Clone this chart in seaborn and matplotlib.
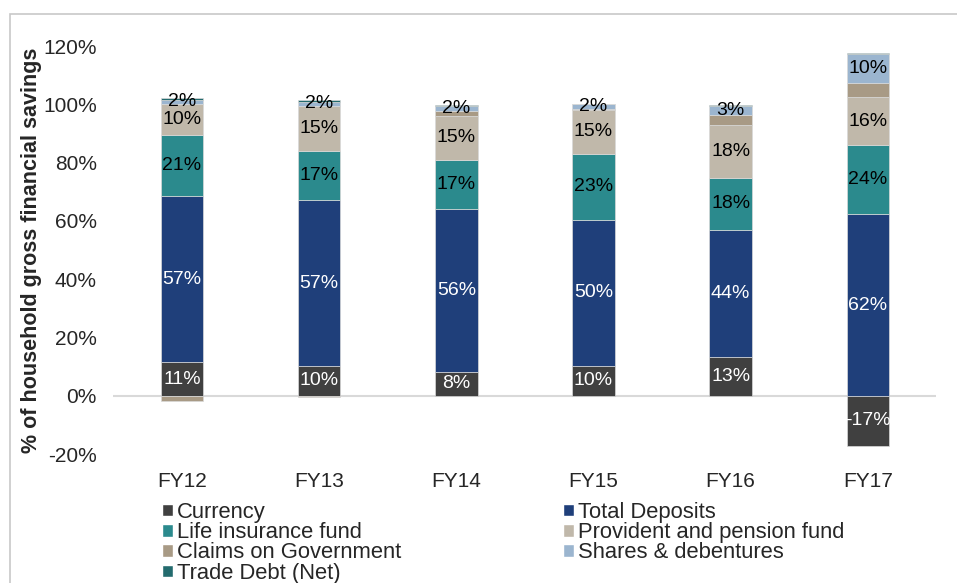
import numpy as np
import pandas as pd
import seaborn as sns
import matplotlib.pyplot as plt
from matplotlib.patches import Patch, Rectangle

years = ['FY12', 'FY13', 'FY14', 'FY15', 'FY16', 'FY17']
currency = [11.4, 10.2, 8.3, 10.2, 13.3, -17.3]
deposits = [57.2, 56.8, 55.6, 50.1, 43.6, 62.2]
life_ins = [21.0, 17.1, 17.0, 22.8, 17.8, 23.8]
provident = [10.4, 15.3, 15.2, 15.0, 18.3, 16.4]
claims_gov = [-1.8, -0.6, 1.6, 0.4, 3.4, 4.8]
shares = [1.6, 1.5, 1.6, 1.5, 3.0, 10.0]
trade_debt = [0.6, 0.4, 0.5, 0.2, 0.4, 0.3]

series = [
    ('Currency', currency, '#404040', 'white', True),
    ('Total Deposits', deposits, '#1f3f7a', 'white', True),
    ('Life insurance fund', life_ins, '#2b8a8d', 'black', True),
    ('Provident and pension fund', provident, '#c0b8aa', 'black', True),
    ('Claims on Government', claims_gov, '#a89a85', 'black', False),
    ('Shares & debentures', shares, '#9bb5cf', 'black', True),
    ('Trade Debt (Net)', trade_debt, '#236b6e', 'black', False),
]

sns.set_style('white')
plt.rcParams['font.family'] = ['Liberation Sans', 'DejaVu Sans']

fig = plt.figure(figsize=(9.57, 5.83), dpi=100)
ax = fig.add_axes([113.4 / 957, 129 / 583, 823 / 957, 408 / 583])

pos_base = np.zeros(len(years))
neg_base = np.zeros(len(years))
for name, vals, col, tcol, show in series:
    vals = np.array(vals)
    bottom = np.where(vals >= 0, pos_base, neg_base)
    df = pd.DataFrame({'year': years, 'value': vals})
    sns.barplot(data=df, x='year', y='value', order=years, bottom=bottom,
                color=col, width=0.31, edgecolor='#d9d9d9', linewidth=0.5,
                saturation=1, ax=ax)
    if show:
        for i, v in enumerate(vals):
            ax.text(i, bottom[i] + v / 2, f'{v:.0f}%', ha='center', va='center',
                    color=tcol, fontsize=14)
    pos_base = np.where(vals >= 0, pos_base + vals, pos_base)
    neg_base = np.where(vals < 0, neg_base + vals, neg_base)

ax.axhline(0, color='#d9d9d9', lw=1.5, zorder=0.5)
ax.set_ylim(-20, 120)
ax.set_xlim(-0.5, 5.5)
ax.set_yticks(range(-20, 121, 20))
ax.set_yticklabels([f'{t}%' for t in range(-20, 121, 20)])
ax.tick_params(axis='both', length=0, labelsize=15)
ax.tick_params(axis='y', pad=12)
ax.tick_params(axis='x', pad=13)
ax.set_xlabel('')
ax.set_ylabel('% of household gross financial savings', fontsize=15.5,
              fontweight='bold')
ax.yaxis.set_label_coords(-71 / 823, 0.5)
sns.despine(ax=ax, left=True, bottom=True)

# legend: matplotlib fills column-wise, reference reads row-wise
handles = {name: Patch(facecolor=col) for name, vals, col, tcol, show in series}
order = ['Currency', 'Life insurance fund', 'Claims on Government', 'Trade Debt (Net)',
         'Total Deposits', 'Provident and pension fund', 'Shares & debentures']
fig.legend([handles[n] for n in order], order, loc='upper left', ncol=2,
           bbox_to_anchor=(153 / 957, 1 - 493 / 583), frameon=False, fontsize=15.8,
           handlelength=0.5, handleheight=0.5, handletextpad=0.2,
           labelspacing=-0.03, columnspacing=7.37, borderaxespad=0)

fig.patches.append(Rectangle((10 / 957, -0.1), 1.2, 1 - 14 / 583 + 0.1,
                             transform=fig.transFigure, fill=False,
                             edgecolor='#c8c8c8', lw=1.2))

fig.savefig('out.png', dpi=100)
